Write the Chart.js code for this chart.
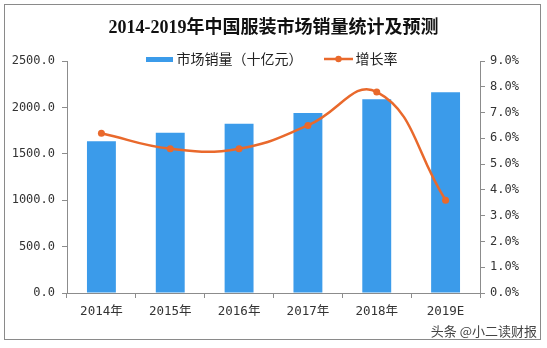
<!DOCTYPE html>
<html lang="zh-CN">
<head>
    <meta charset="UTF-8">
    <title>2014-2019年中国服装市场销量统计及预测</title>
    <script src="https://cdn.jsdelivr.net/npm/chart.js"></script>
    <style>
        html, body { margin: 0; padding: 0; background: #fff; }
    </style>
</head>
<body>
    <canvas id="clothingChart" width="547" height="348"></canvas>

    <script>
        const categories = ['2014年', '2015年', '2016年', '2017年', '2018年', '2019E'];
        const salesValues = [1635, 1727, 1823, 1941, 2088, 2163];   // 十亿元
        const growthRates = [6.2, 5.6, 5.6, 6.5, 7.8, 3.6];         // %
        const salesAxisMax = 2500;
        const salesAxisStep = 500;
        const rateAxisMax = 9;
        const rateAxisStep = 1;

        const barColor = '#3b9bea';
        const lineColor = '#e9692c';
        const axisColor = '#8c8c8c';
        const tickFont = { family: '"DejaVu Sans Mono", "Noto Sans CJK SC"', size: 12 };
        const cjkFont = '"Noto Sans CJK SC", "Liberation Serif"';

        // legend icons: flat blue bar, orange line with a dot
        function makeIcon(w, h, draw) {
            const c = document.createElement('canvas');
            c.width = w;
            c.height = h;
            draw(c.getContext('2d'));
            return c;
        }
        const barIcon = makeIcon(27, 5, ctx => {
            ctx.fillStyle = barColor;
            ctx.fillRect(0, 0, 27, 5);
        });
        const lineIcon = makeIcon(29, 8, ctx => {
            ctx.strokeStyle = lineColor;
            ctx.lineWidth = 2.5;
            ctx.beginPath();
            ctx.moveTo(0, 4);
            ctx.lineTo(29, 4);
            ctx.stroke();
            ctx.fillStyle = lineColor;
            ctx.beginPath();
            ctx.arc(14.5, 4, 3.2, 0, Math.PI * 2);
            ctx.fill();
        });
        const legendIcons = [barIcon, lineIcon];

        // legend sits over the top of the plot, like the original
        const legendLift = {
            id: 'legendLift',
            afterLayout(chart) {
                const lg = chart.legend;
                if (!lg) return;
                lg.top = 26;
                lg.height = 50;
                lg.bottom = lg.top + lg.height;
            }
        };

        const frameAndCredit = {
            id: 'frameAndCredit',
            afterDraw(chart) {
                const ctx = chart.ctx;
                ctx.save();
                ctx.strokeStyle = '#8a8a8a';
                ctx.lineWidth = 1;
                ctx.strokeRect(4.5, 4.5, 536, 335);
                ctx.fillStyle = '#444';
                ctx.font = '13px ' + cjkFont;
                ctx.textAlign = 'right';
                ctx.textBaseline = 'middle';
                ctx.fillText('头条 @小二读财报', 537, 331);
                ctx.restore();
            }
        };

        new Chart(document.getElementById('clothingChart'), {
            type: 'bar',
            data: {
                labels: categories,
                datasets: [
                    {
                        type: 'bar',
                        label: '市场销量（十亿元）',
                        data: salesValues,
                        backgroundColor: barColor,
                        yAxisID: 'y',
                        barPercentage: 0.42,
                        categoryPercentage: 1,
                        order: 2
                    },
                    {
                        type: 'line',
                        label: '增长率',
                        data: growthRates,
                        borderColor: lineColor,
                        backgroundColor: lineColor,
                        borderWidth: 2.5,
                        pointRadius: 3.5,
                        pointBorderWidth: 0,
                        tension: 0.45,
                        yAxisID: 'y1',
                        order: 1
                    }
                ]
            },
            options: {
                responsive: false,
                animation: false,
                devicePixelRatio: 1,
                layout: { padding: 0 },
                plugins: {
                    title: {
                        display: true,
                        text: '2014-2019年中国服装市场销量统计及预测',
                        color: '#111',
                        font: { family: '"Liberation Serif", ' + cjkFont, size: 18, weight: 'bold' },
                        padding: { top: 17.2, bottom: 0 }
                    },
                    legend: {
                        display: true,
                        maxHeight: 22.2,
                        labels: {
                            usePointStyle: true,
                            pointStyleWidth: 20,
                            padding: 26,
                            color: '#222',
                            font: { family: cjkFont, size: 14 },
                            sort: (a, b) => a.datasetIndex - b.datasetIndex,
                            generateLabels(chart) {
                                const items = Chart.defaults.plugins.legend.labels.generateLabels(chart);
                                items.forEach(item => { item.pointStyle = legendIcons[item.datasetIndex]; });
                                return items;
                            }
                        }
                    },
                    tooltip: { enabled: false }
                },
                scales: {
                    x: {
                        grid: {
                            offset: true,
                            drawOnChartArea: false,
                            color: axisColor,
                            tickLength: 5
                        },
                        border: { color: axisColor },
                        ticks: { color: '#333', font: { ...tickFont, size: 12.5 }, padding: 6, maxRotation: 0 },
                        afterFit(scale) { scale.height = 55; }
                    },
                    y: {
                        position: 'left',
                        min: 0,
                        max: salesAxisMax,
                        grid: { drawOnChartArea: false, color: axisColor, tickLength: 5 },
                        border: { color: axisColor },
                        ticks: {
                            stepSize: salesAxisStep,
                            color: '#333',
                            font: tickFont,
                            padding: 7,
                            callback: v => v.toFixed(1)
                        },
                        afterFit(scale) { scale.width = 67; }
                    },
                    y1: {
                        position: 'right',
                        min: 0,
                        max: rateAxisMax,
                        grid: { drawOnChartArea: false, color: axisColor, tickLength: 5 },
                        border: { color: axisColor },
                        ticks: {
                            stepSize: rateAxisStep,
                            color: '#333',
                            font: tickFont,
                            padding: 5,
                            callback: v => v.toFixed(1) + '%'
                        },
                        afterFit(scale) { scale.width = 67; }
                    }
                }
            },
            plugins: [legendLift, frameAndCredit]
        });
    </script>
</body>
</html>
